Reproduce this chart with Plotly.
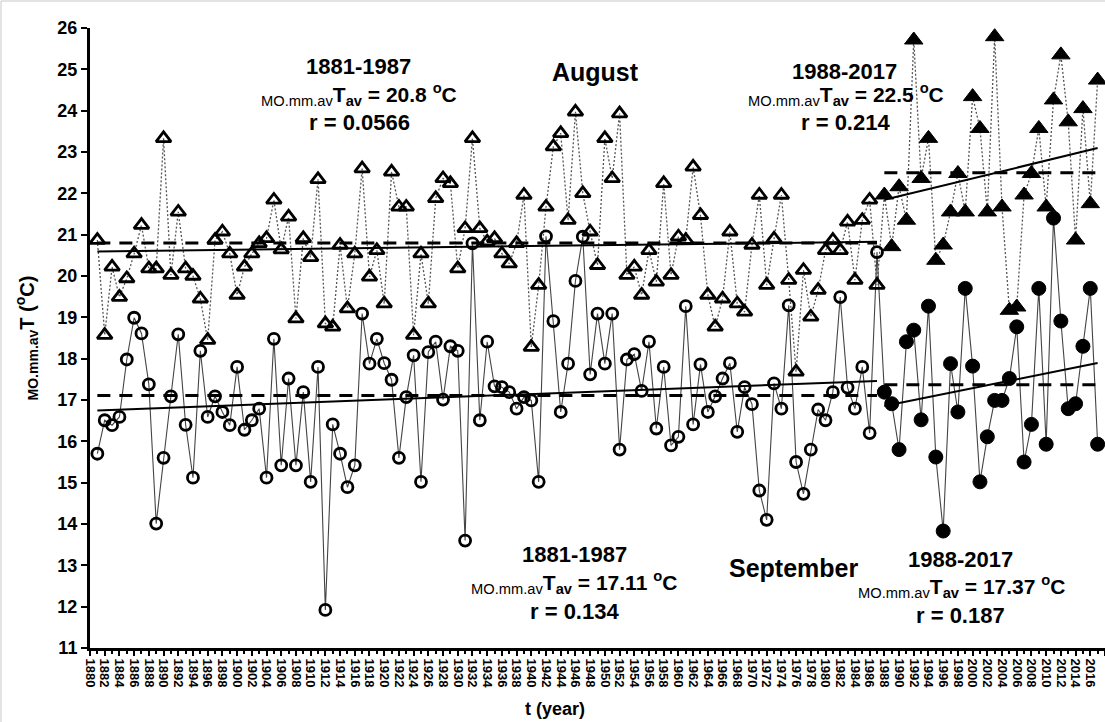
import numpy as np
import plotly.graph_objects as go

# ---------------------------------------------------------------------------
# Mean monthly air temperature, August and September (°C)
# ---------------------------------------------------------------------------
years_1881_1987 = list(range(1881, 1988))
years_1988_2017 = list(range(1988, 2018))

aug_1881_1987 = [
    20.87, 18.57, 20.22, 19.49, 19.94, 20.54, 21.23, 20.18, 20.18, 23.33,
    20.02, 21.55, 20.18, 20.00, 19.45, 18.45, 20.87, 21.07, 20.54, 19.54,
    20.22, 20.54, 20.79, 20.91, 21.84, 20.64, 21.43, 18.97, 20.91, 20.45,
    22.34, 18.85, 18.77, 20.75, 19.21, 20.54, 22.60, 19.98, 20.62, 19.33,
    22.52, 21.67, 21.67, 18.57, 20.54, 19.33, 21.88, 22.36, 22.24, 20.18,
    21.15, 23.33, 21.15, 20.83, 20.91, 20.54, 20.30, 20.79, 21.96, 18.28,
    19.78, 21.67, 23.13, 23.45, 21.35, 23.97, 22.00, 21.07, 20.26, 23.33,
    22.36, 23.93, 20.02, 20.22, 19.54, 20.62, 19.86, 22.24, 20.02, 20.95,
    20.87, 22.64, 21.47, 19.54, 18.77, 19.45, 21.07, 19.33, 19.13, 20.75,
    21.96, 19.78, 20.90, 21.96, 19.90, 17.68, 20.14, 19.01, 19.66, 20.62,
    20.87, 20.62, 21.31, 19.90, 21.35, 21.84, 19.78,
]
aug_1988_2017 = [
    21.96, 20.71, 22.16, 21.35, 25.71, 22.36, 23.33, 20.38, 20.75, 21.55,
    22.48, 21.55, 24.34, 23.57, 21.55, 25.79, 21.67, 19.17, 19.25, 21.96,
    22.48, 23.57, 21.67, 24.26, 25.35, 23.73, 20.87, 24.05, 21.75, 24.74,
]

sep_1881_1987 = [
    15.70, 16.51, 16.39, 16.59, 17.98, 18.99, 18.61, 17.38, 14.01, 15.60,
    17.09, 18.59, 16.40, 15.12, 18.19, 16.59, 17.09, 16.71, 16.39, 17.80,
    16.28, 16.51, 16.79, 15.12, 18.48, 15.42, 17.52, 15.42, 17.19, 15.02,
    17.80, 11.92, 16.41, 15.70, 14.89, 15.42, 19.09, 17.88, 18.48, 17.89,
    17.49, 15.60, 17.07, 18.08, 15.02, 18.16, 18.41, 17.01, 18.30, 18.19,
    13.60, 20.79, 16.51, 18.41, 17.33, 17.31, 17.19, 16.79, 17.07, 16.99,
    15.02, 20.96, 18.91, 16.71, 17.88, 19.88, 20.95, 17.62, 19.09, 17.88,
    19.09, 15.80, 17.98, 18.11, 17.22, 18.41, 16.31, 17.80, 15.90, 16.11,
    19.27, 16.41, 17.86, 16.71, 17.09, 17.52, 17.89, 16.23, 17.31, 16.90,
    14.81, 14.10, 17.40, 16.79, 19.29, 15.50, 14.73, 15.80, 16.77, 16.51,
    17.19, 19.49, 17.30, 16.79, 17.80, 16.20, 20.58,
]
sep_1988_2017 = [
    17.19, 16.91, 15.80, 18.41, 18.69, 16.52, 19.27, 15.62, 13.83, 17.88,
    16.71, 19.70, 17.82, 15.02, 16.11, 16.99, 16.99, 17.52, 18.77, 15.50,
    16.41, 19.70, 15.93, 21.40, 18.91, 16.79, 16.91, 18.30, 19.70, 15.93,
]

# Period averages and correlation coefficients as reported
aug_mean_1881_1987, aug_r_1881_1987 = 20.8, "0.0566"
aug_mean_1988_2017, aug_r_1988_2017 = 22.5, "0.214"
sep_mean_1881_1987, sep_r_1881_1987 = 17.11, "0.134"
sep_mean_1988_2017, sep_r_1988_2017 = 17.37, "0.187"

# ---------------------------------------------------------------------------
W, H = 1105, 722
M_L, M_R, M_T, M_B = 90, 0, 28, 74
FONT = "Liberation Sans, Arial, sans-serif"


def px_x(px):
    return (px - M_L) / (W - M_L - M_R)


def px_y(py):
    return (H - M_B - py) / (H - M_T - M_B)


fig = go.Figure()

all_years = years_1881_1987 + years_1988_2017

# connecting lines of the yearly series
fig.add_trace(go.Scatter(
    x=all_years, y=aug_1881_1987 + aug_1988_2017, mode="lines",
    line=dict(color="#555555", width=1.3, dash="2px,2px"), hoverinfo="skip"))
fig.add_trace(go.Scatter(
    x=all_years, y=sep_1881_1987 + sep_1988_2017, mode="lines",
    line=dict(color="#444444", width=1.1), hoverinfo="skip"))


def period_lines(years, values, mean):
    """Dashed period average and solid least-squares trend."""
    yrs = np.array(years, dtype=float)
    vals = np.array(values, dtype=float)
    slope, icpt = np.polyfit(yrs, vals, 1)
    x_ends = [yrs[0], yrs[-1]]
    fig.add_trace(go.Scatter(
        x=x_ends, y=[mean, mean], mode="lines",
        line=dict(color="black", width=3, dash="13px,9px"), hoverinfo="skip"))
    fig.add_trace(go.Scatter(
        x=x_ends, y=[slope * x + icpt for x in x_ends], mode="lines",
        line=dict(color="black", width=2), hoverinfo="skip"))


period_lines(years_1881_1987, aug_1881_1987, aug_mean_1881_1987)
period_lines(years_1988_2017, aug_1988_2017, aug_mean_1988_2017)
period_lines(years_1881_1987, sep_1881_1987, sep_mean_1881_1987)
period_lines(years_1988_2017, sep_1988_2017, sep_mean_1988_2017)

# markers
fig.add_trace(go.Scatter(
    x=years_1881_1987, y=aug_1881_1987, mode="markers", name="August 1881-1987",
    marker=dict(symbol="triangle-up-open", size=13, color="black",
                line=dict(color="black", width=2.8))))
fig.add_trace(go.Scatter(
    x=years_1988_2017, y=aug_1988_2017, mode="markers", name="August 1988-2017",
    marker=dict(symbol="triangle-up", size=16, color="black",
                line=dict(color="black", width=1))))
fig.add_trace(go.Scatter(
    x=years_1881_1987, y=sep_1881_1987, mode="markers", name="September 1881-1987",
    marker=dict(symbol="circle-open", size=11, color="black",
                line=dict(color="black", width=2.8))))
fig.add_trace(go.Scatter(
    x=years_1988_2017, y=sep_1988_2017, mode="markers", name="September 1988-2017",
    marker=dict(symbol="circle", size=14, color="black",
                line=dict(color="black", width=1))))


def tav_text(mean):
    return ("<sub><span style='font-weight:normal'>MO.mm.av</span></sub>"
            "T<sub>av</sub> = %s <sup>o</sup>C" % mean)


notes = [
    ("1881-1987", 358, 67, 22),
    (tav_text(aug_mean_1881_1987), 359, 94, 21),
    ("r = " + aug_r_1881_1987, 359, 123, 22),
    ("August", 595, 72, 25),
    ("1988-2017", 844, 72, 22),
    (tav_text(aug_mean_1988_2017), 846, 94, 21),
    ("r = " + aug_r_1988_2017, 845, 123, 22),
    ("1881-1987", 574, 554, 22),
    (tav_text(sep_mean_1881_1987), 574, 582, 21),
    ("r = " + sep_r_1881_1987, 574, 611, 22),
    ("September", 793, 568, 25),
    ("1988-2017", 960, 559, 22),
    (tav_text(sep_mean_1988_2017), 961, 586, 21),
    ("r = " + sep_r_1988_2017, 960, 615, 22),
]
annotations = [
    dict(text=t, x=px_x(x), y=px_y(y), xref="paper", yref="paper",
         xanchor="center", yanchor="middle", showarrow=False,
         font=dict(family=FONT, size=s, color="black", weight="bold"))
    for t, x, y, s in notes
]
annotations.append(dict(
    text="t (year)", x=px_x(555), y=px_y(709), xref="paper", yref="paper",
    xanchor="center", yanchor="middle", showarrow=False,
    font=dict(family=FONT, size=18, color="black", weight="bold")))

fig.update_layout(
    width=W, height=H,
    margin=dict(l=M_L, r=M_R, t=M_T, b=M_B, autoexpand=False),
    paper_bgcolor="white", plot_bgcolor="white",
    showlegend=False,
    font=dict(family=FONT, color="black"),
    annotations=annotations,
    shapes=[dict(type="rect", xref="paper", yref="paper",
                 x0=px_x(1), x1=px_x(1110), y0=px_y(730), y1=px_y(1),
                 line=dict(color="#c8c8c8", width=1), layer="below")],
)

fig.update_xaxes(
    range=[1880, 2018], tickmode="linear", tick0=1880, dtick=2,
    tickangle=90, tickfont=dict(family=FONT, size=13, weight="bold", color="black"),
    showline=True, linecolor="black", linewidth=3,
    ticks="outside", ticklen=5, tickwidth=2, tickcolor="black",
    minor=dict(ticks="outside", ticklen=3, tickwidth=1.5, tickcolor="black",
               tick0=1880, dtick=1),
    showgrid=False, zeroline=False,
)
fig.update_yaxes(
    range=[11, 26], tickmode="linear", tick0=11, dtick=1,
    tickfont=dict(family=FONT, size=18, weight="bold", color="black"),
    showline=True, linecolor="black", linewidth=3,
    ticks="outside", ticklen=6, tickwidth=2, tickcolor="black",
    showgrid=False, zeroline=False,
    title=dict(text="<sub>MO.mm.av</sub>T (<sup>o</sup>C)",
               font=dict(family=FONT, size=20, weight="bold", color="black"),
               standoff=18),
)

fig.write_html("out.html")
